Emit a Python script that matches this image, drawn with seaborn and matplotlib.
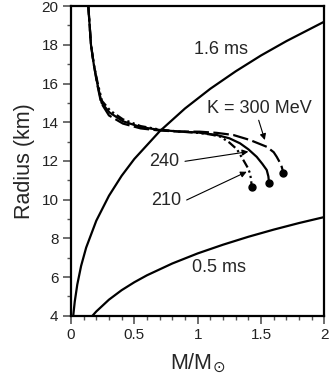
import matplotlib
matplotlib.use("Agg")
import matplotlib.pyplot as plt
import seaborn as sns
import pandas as pd
from matplotlib.ticker import MultipleLocator

# --- data ---
m_210 = [0.137, 0.158, 0.18, 0.21, 0.245, 0.31, 0.41, 0.55, 0.70, 0.85, 1.0, 1.10, 1.18,
         1.25, 1.31, 1.36, 1.395, 1.413, 1.422, 1.426]
r_210 = [20.0, 18.0, 17.0, 16.05, 15.1, 14.6, 14.15, 13.8, 13.62, 13.52, 13.45, 13.37, 13.25,
         12.95, 12.6, 12.05, 11.65, 11.36, 11.0, 10.67]

m_240 = [0.137, 0.158, 0.18, 0.208, 0.242, 0.305, 0.41, 0.55, 0.70, 0.85, 1.0, 1.15, 1.25,
         1.334, 1.40, 1.466, 1.51, 1.545, 1.558, 1.563]
r_240 = [20.0, 18.0, 17.0, 16.0, 15.0, 14.5, 14.05, 13.75, 13.6, 13.52, 13.47, 13.34, 13.17,
         12.91, 12.6, 12.21, 11.85, 11.53, 11.2, 10.87]

m_300 = [0.137, 0.158, 0.18, 0.206, 0.238, 0.30, 0.41, 0.55, 0.70, 0.85, 1.018, 1.15, 1.281,
         1.413, 1.545, 1.60, 1.624, 1.65, 1.663, 1.676]
r_300 = [20.0, 18.0, 17.0, 16.0, 15.0, 14.35, 13.93, 13.68, 13.57, 13.52, 13.51, 13.45, 13.34,
         13.08, 12.73, 12.45, 12.21, 11.9, 11.70, 11.39]

m_16ms = [0.018, 0.03, 0.05, 0.08, 0.12, 0.2, 0.3, 0.4, 0.5, 0.7, 0.9, 1.1, 1.3, 1.5, 1.7, 2.0]
r_16ms = [4.0, 4.73, 5.61, 6.57, 7.52, 8.91, 10.20, 11.23, 12.10, 13.53, 14.71, 15.73, 16.63,
          17.45, 18.19, 19.2]

m_05ms = [0.17, 0.2, 0.3, 0.4, 0.5, 0.6, 0.8, 1.0, 1.2, 1.4, 1.6, 1.8, 2.0]
r_05ms = [4.0, 4.22, 4.83, 5.32, 5.73, 6.09, 6.70, 7.22, 7.67, 8.08, 8.45, 8.79, 9.1]

x_ticks = [0, 0.5, 1, 1.5, 2]
x_tick_labels = ["0", "0.5", "1", "1.5", "2"]
y_ticks = [4, 6, 8, 10, 12, 14, 16, 18, 20]

sns.set_style("ticks")
plt.rcParams["font.family"] = ["Liberation Sans", "DejaVu Sans"]

fig = plt.figure(figsize=(3.3, 3.82), dpi=100)
ax = fig.add_axes([0.215, 0.1735, 0.768, 0.8105])

lw = 1.6
def curve(m, r, **kw):
    df = pd.DataFrame({"M": m, "R": r})
    sns.lineplot(data=df, x="M", y="R", ax=ax, sort=False, estimator=None,
                 color="black", **kw)

curve(m_16ms, r_16ms, lw=lw)
curve(m_05ms, r_05ms, lw=lw)
curve(m_210, r_210, lw=lw, linestyle=(0, (4, 1.5, 1, 1.5, 1, 1.5)))
curve(m_240, r_240, lw=lw)
curve(m_300, r_300, lw=lw, linestyle=(0, (7, 2)))

for m, r in [(m_210, r_210), (m_240, r_240), (m_300, r_300)]:
    ax.plot(m[-1], r[-1], "o", color="black", ms=5, zorder=5)

ax.set_xlim(0, 2)
ax.set_ylim(4, 20)
ax.set_xticks(x_ticks)
ax.set_xticklabels(x_tick_labels)
ax.set_yticks(y_ticks)
ax.xaxis.set_minor_locator(MultipleLocator(0.1))
ax.yaxis.set_minor_locator(MultipleLocator(1))
ax.tick_params(which="major", direction="out", length=6, width=1.2, color="#555555",
               labelsize=11, pad=3, labelcolor="#222222")
ax.tick_params(which="minor", direction="out", length=3, width=1.0, color="#555555")
for s in ax.spines.values():
    s.set_linewidth(1.6)
    s.set_color("black")

ax.set_xlabel(r"M/M$_{\odot}$", fontsize=15.5, labelpad=7)
ax.set_ylabel("Radius (km)", fontsize=15.5, labelpad=5)

fs = 13
ax.text(1.184, 17.78, "1.6 ms", fontsize=fs, ha="center", va="center")
ax.text(1.168, 6.49, "0.5 ms", fontsize=fs, ha="center", va="center",
        bbox=dict(fc="white", ec="none", pad=1.0))

arrow = dict(arrowstyle="-|>", lw=0.8, color="black", mutation_scale=9,
             shrinkA=0, shrinkB=0)
ax.annotate("K = 300 MeV", xy=(1.53, 13.08), xytext=(1.49, 14.71), fontsize=fs,
            ha="center", va="center", arrowprops=dict(arrow, relpos=(0.48, 0.0)))
ax.annotate("", xy=(1.40, 12.48), xytext=(0.90, 11.98), arrowprops=arrow)
ax.text(0.734, 11.96, "240", fontsize=fs, ha="center", va="center")
ax.annotate("", xy=(1.387, 11.44), xytext=(0.913, 9.98), arrowprops=arrow)
ax.text(0.75, 9.98, "210", fontsize=fs, ha="center", va="center")

fig.savefig("out.png", dpi=100)
